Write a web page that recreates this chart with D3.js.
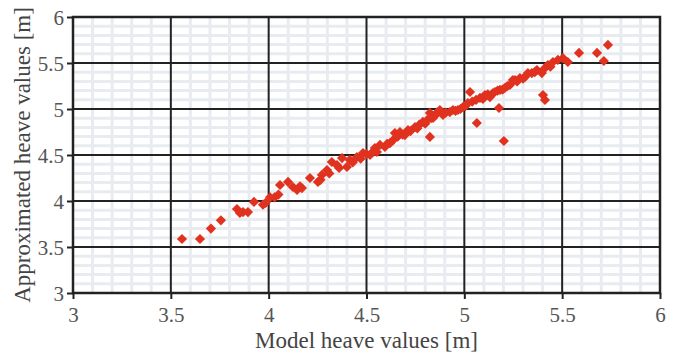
<!DOCTYPE html>
<html>
<head>
<meta charset="utf-8">
<script src="https://cdn.jsdelivr.net/npm/d3@7"></script>
<style>
  body { margin: 0; background: #fff; }
  svg text { font-family: "Liberation Serif", "DejaVu Serif", serif; }
</style>
</head>
<body>
<div id="chart"></div>
<script>
// model heave (x) vs approximated heave (y)
const modelHeave = [
  3.557, 3.649, 3.705, 3.756, 3.838, 3.853, 3.869, 3.894, 3.925, 3.971,
  3.985, 4.007, 4.030, 4.050, 4.058, 4.099, 4.124, 4.145, 4.170, 4.160,
  4.211, 4.252, 4.265, 4.272, 4.298, 4.310, 4.323, 4.349, 4.360, 4.375,
  4.400, 4.415, 4.430, 4.451, 4.470, 4.482, 4.500, 4.518, 4.530, 4.553,
  4.543, 4.569, 4.594, 4.605, 4.620, 4.635, 4.645, 4.660, 4.671, 4.685,
  4.696, 4.712, 4.725, 4.748, 4.760, 4.770, 4.788, 4.800, 4.810, 4.824,
  4.830, 4.840, 4.850, 4.860, 4.875, 4.891, 4.905, 4.926, 4.942, 4.955,
  4.967, 4.980, 4.993, 5.005, 5.018, 5.029, 5.040, 5.060, 5.080, 5.095,
  5.105, 5.120, 5.131, 5.145, 5.156, 5.170, 5.182, 5.195, 5.207, 5.220,
  5.233, 5.248, 5.259, 5.270, 5.284, 5.300, 5.310, 5.325, 5.345, 5.360,
  5.371, 5.396, 5.410, 5.427, 5.440, 5.453, 5.478, 5.504, 5.529, 5.586,
  5.678, 5.713, 5.734,
  4.824, 5.064, 5.177, 5.202, 5.402, 5.412
];
const approxHeave = [
  3.587, 3.587, 3.700, 3.790, 3.913, 3.870, 3.880, 3.880, 3.990, 3.960,
  3.980, 4.040, 4.040, 4.070, 4.174, 4.207, 4.152, 4.120, 4.141, 4.160,
  4.250, 4.207, 4.230, 4.283, 4.337, 4.300, 4.424, 4.391, 4.360, 4.467,
  4.370, 4.446, 4.420, 4.478, 4.460, 4.522, 4.510, 4.500, 4.530, 4.533,
  4.576, 4.609, 4.587, 4.620, 4.630, 4.660, 4.739, 4.700, 4.750, 4.720,
  4.717, 4.772, 4.760, 4.804, 4.790, 4.830, 4.859, 4.840, 4.880, 4.957,
  4.900, 4.902, 4.930, 4.960, 4.989, 4.935, 4.960, 4.967, 4.989, 4.980,
  4.989, 5.000, 5.022, 5.030, 5.065, 5.185, 5.080, 5.100, 5.120, 5.110,
  5.152, 5.160, 5.130, 5.170, 5.185, 5.200, 5.207, 5.210, 5.228, 5.250,
  5.261, 5.315, 5.315, 5.300, 5.337, 5.330, 5.348, 5.391, 5.391, 5.400,
  5.424, 5.391, 5.440, 5.478, 5.460, 5.511, 5.533, 5.554, 5.511, 5.609,
  5.609, 5.522, 5.696,
  4.696, 4.848, 5.011, 4.652, 5.152, 5.098
];
const xTicks = [3, 3.5, 4, 4.5, 5, 5.5, 6];
const yTicks = [3, 3.5, 4, 4.5, 5, 5.5, 6];

const width = 675, height = 356;
const margin = { top: 17, right: 15, bottom: 63, left: 73 };
const serif = "'Liberation Serif', 'DejaVu Serif', serif";

const svg = d3.select("#chart").append("svg")
  .attr("width", width)
  .attr("height", height);

const x = d3.scaleLinear().domain([3, 6]).range([margin.left, width - margin.right]);
const y = d3.scaleLinear().domain([3, 6]).range([height - margin.bottom, margin.top]);

const minor = d3.range(30, 61).map(d => d / 10).filter(d => xTicks.indexOf(d) < 0);

// light minor grid
svg.append("g").selectAll("line")
  .data(minor).join("line")
  .attr("x1", d => x(d)).attr("x2", d => x(d))
  .attr("y1", y(3)).attr("y2", y(6))
  .attr("stroke", "#e8ecf1").attr("stroke-width", 3);
svg.append("g").selectAll("line")
  .data(minor).join("line")
  .attr("y1", d => y(d)).attr("y2", d => y(d))
  .attr("x1", x(3)).attr("x2", x(6))
  .attr("stroke", "#e8ecf1").attr("stroke-width", 3);

// major grid
svg.append("g").selectAll("line")
  .data(xTicks).join("line")
  .attr("x1", d => x(d)).attr("x2", d => x(d))
  .attr("y1", y(3)).attr("y2", y(6))
  .attr("stroke", "#222").attr("stroke-width", 2);
svg.append("g").selectAll("line")
  .data(yTicks).join("line")
  .attr("y1", d => y(d)).attr("y2", d => y(d))
  .attr("x1", x(3)).attr("x2", x(6))
  .attr("stroke", "#222").attr("stroke-width", 2);

svg.append("rect")
  .attr("x", x(3)).attr("y", y(6))
  .attr("width", x(6) - x(3)).attr("height", y(3) - y(6))
  .attr("fill", "none").attr("stroke", "#222").attr("stroke-width", 2.5);

// axes
const fmt = d => String(d);
const xAxis = svg.append("g")
  .attr("transform", `translate(0,${y(3)})`)
  .call(d3.axisBottom(x).tickValues(xTicks).tickFormat(fmt).tickSize(6).tickPadding(8));
const yAxis = svg.append("g")
  .attr("transform", `translate(${x(3)},0)`)
  .call(d3.axisLeft(y).tickValues(yTicks).tickFormat(fmt).tickSize(6).tickPadding(3));

[xAxis, yAxis].forEach(a => {
  a.attr("font-family", serif).attr("font-size", 21);
  a.select(".domain").remove();
  a.selectAll(".tick line").attr("stroke", "#222").attr("stroke-width", 2);
  a.selectAll(".tick text")
    .attr("fill", "#555")
    .attr("font-family", serif)
    .attr("font-size", 21);
});
yAxis.selectAll(".tick text").attr("dy", "0.35em");

// points
const pts = modelHeave.map((d, i) => [d, approxHeave[i]]);
const diamond = d3.symbol().type(d3.symbolSquare).size(52);
svg.append("g").selectAll("path")
  .data(pts).join("path")
  .attr("d", diamond)
  .attr("transform", d => `translate(${x(d[0])},${y(d[1])}) rotate(45)`)
  .attr("fill", "#e0321f");

// titles
svg.append("text")
  .attr("x", (x(3) + x(6)) / 2)
  .attr("y", 348)
  .attr("text-anchor", "middle")
  .attr("fill", "#444")
  .attr("font-family", serif)
  .attr("font-size", 23)
  .text("Model heave values [m]");

svg.append("text")
  .attr("transform", `translate(30,${(y(3) + y(6)) / 2}) rotate(-90)`)
  .attr("text-anchor", "middle")
  .attr("fill", "#444")
  .attr("font-family", serif)
  .attr("font-size", 23)
  .text("Approximated heave values [m]");
</script>
</body>
</html>
